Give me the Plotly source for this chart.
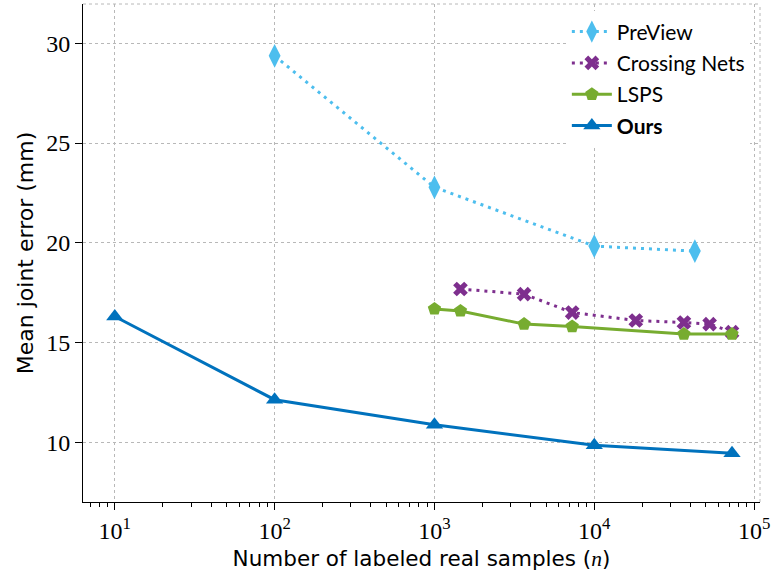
import plotly.graph_objects as go

# ---- data ----
preview_n = [100, 1000, 10000, 42600]
preview_err = [29.37, 22.78, 19.83, 19.58]

crossing_n = [1455, 3638, 7276, 18189, 36379, 52700, 72757]
crossing_err = [17.68, 17.42, 16.5, 16.1, 16.0, 15.92, 15.52]

lsps_n = [1000, 1455, 3638, 7276, 36379, 72757]
lsps_err = [16.68, 16.58, 15.92, 15.8, 15.42, 15.42]

ours_n = [10, 100, 1000, 10000, 72757]
ours_err = [16.3, 12.13, 10.87, 9.85, 9.44]

y_ticks = [10, 15, 20, 25, 30]
x_ticks = [10, 100, 1000, 10000, 100000]
x_ticktext = ["10<sup>1</sup>", "10<sup>2</sup>", "10<sup>3</sup>", "10<sup>4</sup>", "10<sup>5</sup>"]

c_preview = "#4DBEEE"
c_cross = "#7E2F8E"
c_lsps = "#77AC30"
c_ours = "#0072BD"

sans = "DejaVu Sans"
legend_font = "Lato"
serif = "Liberation Serif"

fig = go.Figure()
fig.add_trace(go.Scatter(
    x=preview_n, y=preview_err, name="PreView", mode="lines+markers",
    legendgroup="a",
    line=dict(color=c_preview, width=3, dash="3px,5px"),
    marker=dict(symbol="diamond-tall", size=17, color=c_preview)))
fig.add_trace(go.Scatter(
    x=crossing_n, y=crossing_err, name="Crossing Nets", mode="lines+markers",
    legendgroup="b",
    line=dict(color=c_cross, width=3, dash="3px,5px"),
    marker=dict(symbol="x", size=13, color=c_cross)))
fig.add_trace(go.Scatter(
    x=lsps_n, y=lsps_err, name="LSPS", mode="lines+markers",
    legendgroup="c",
    line=dict(color=c_lsps, width=3),
    marker=dict(symbol="pentagon", size=14, color=c_lsps)))
fig.add_trace(go.Scatter(
    x=ours_n, y=ours_err, name="<b>Ours</b>", mode="lines+markers",
    legendgroup="d",
    line=dict(color=c_ours, width=3),
    marker=dict(symbol="triangle-up", size=15, color=c_ours)))

minor_vals = [m * 10 ** k for k in range(0, 6) for m in range(2, 10)]

fig.update_layout(
    width=774, height=575,
    margin=dict(l=83, r=9, t=4, b=73),
    paper_bgcolor="white", plot_bgcolor="white",
    showlegend=True,
    legend=dict(x=0.985, y=0.985, xanchor="right", yanchor="top",
                bgcolor="white", borderwidth=0,
                tracegroupgap=1, itemwidth=40,
                font=dict(family=legend_font, size=21, color="black")),
    xaxis=dict(
        type="log", range=[0.801, 5.037],
        tickvals=x_ticks, ticktext=x_ticktext,
        tickfont=dict(family=serif, size=24, color="black"),
        ticklabeloverflow="allow",
        ticks="outside", ticklen=7, tickwidth=1, tickcolor="black",
        showline=True, linecolor="black", linewidth=1,
        showgrid=True, gridcolor="#b8b8b8", griddash="dot", gridwidth=1,
        zeroline=False,
        minor=dict(tickvals=minor_vals, ticks="outside", ticklen=4,
                   tickcolor="black", tickwidth=1, showgrid=False),
        title=dict(text="Number of labeled real samples (<span style=\"font-family:Liberation Serif\"><i>n</i></span>)",
                   font=dict(family=sans, size=21.5, color="black"),
                   standoff=8),
    ),
    yaxis=dict(
        range=[7.0, 31.97],
        tickvals=y_ticks,
        tickfont=dict(family=serif, size=24, color="black"),
        ticks="outside", ticklen=7, tickwidth=1, tickcolor="black",
        showline=True, linecolor="black", linewidth=1,
        showgrid=True, gridcolor="#b8b8b8", griddash="dot", gridwidth=1,
        zeroline=False,
        title=dict(text="Mean joint error (mm)",
                   font=dict(family=sans, size=22, color="black"),
                   standoff=6),
    ),
    shapes=[
        dict(type="line", xref="paper", yref="paper", x0=0, x1=1, y0=1, y1=1,
             line=dict(color="#b8b8b8", width=1, dash="dot")),
        dict(type="line", xref="paper", yref="paper", x0=1, x1=1, y0=0, y1=1,
             line=dict(color="#b8b8b8", width=1, dash="dot")),
    ],
)

fig.write_html("out.html")
